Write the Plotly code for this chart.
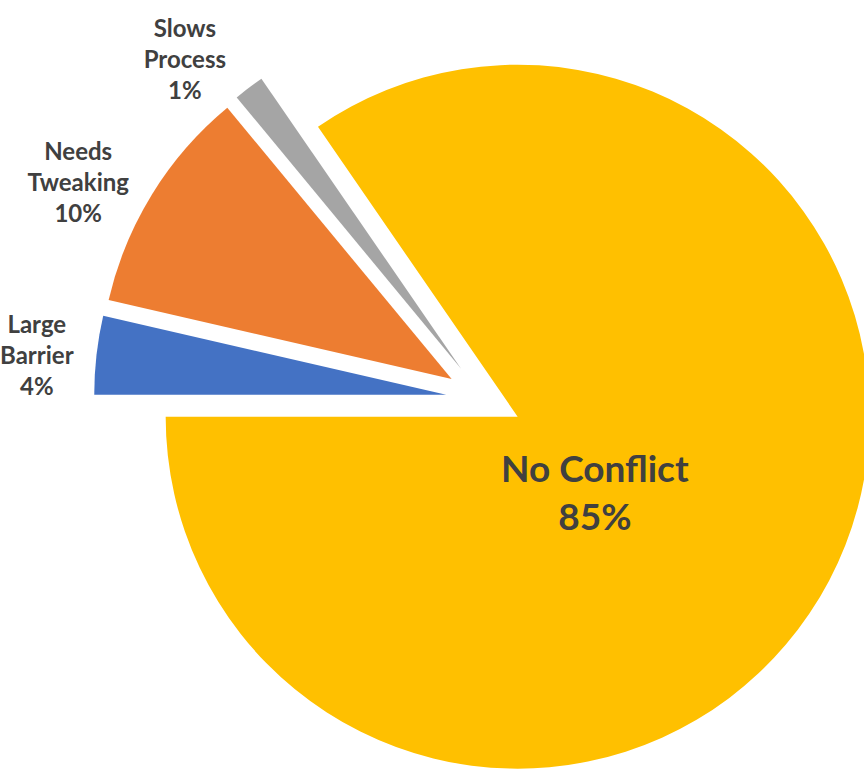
import plotly.graph_objects as go

labels = ["Large<br>Barrier", "Needs<br>Tweaking", "Slows<br>Process", "No Conflict"]
values = [3.6, 10.4, 1.4, 84.6]
colors = ["#4472C4", "#ED7D31", "#A5A5A5", "#FFC000"]
positions = ["outside", "outside", "outside", "none"]

total = sum(values)
main_label = f"{labels[3]}<br>{round(100 * values[3] / total)}%"

fig = go.Figure(
    go.Pie(
        labels=labels,
        values=values,
        marker=dict(colors=colors, line=dict(width=0)),
        sort=False,
        direction="clockwise",
        rotation=270,
        pull=[0.108] * len(values),
        automargin=False,
        textposition=positions,
        texttemplate="%{label}<br>%{percent:.0%}",
        outsidetextfont=dict(family="Lato", size=24, color="#404040", weight="bold"),
        showlegend=False,
        hoverinfo="label+percent",
    )
)

fig.add_annotation(
    text=main_label,
    x=0.642, y=0.381, xref="paper", yref="paper",
    showarrow=False,
    font=dict(family="Lato", size=37, color="#404040", weight="bold"),
)

fig.update_layout(
    width=880,
    height=800,
    margin=dict(l=94, r=6, t=9, b=11, autoexpand=False),
    paper_bgcolor="white",
    plot_bgcolor="white",
)

fig.write_html(
    "out.html",
    config={"displayModeBar": False},
    post_script="document.body.style.overflow='hidden';document.documentElement.style.overflow='hidden';document.body.style.margin='0';",
)
